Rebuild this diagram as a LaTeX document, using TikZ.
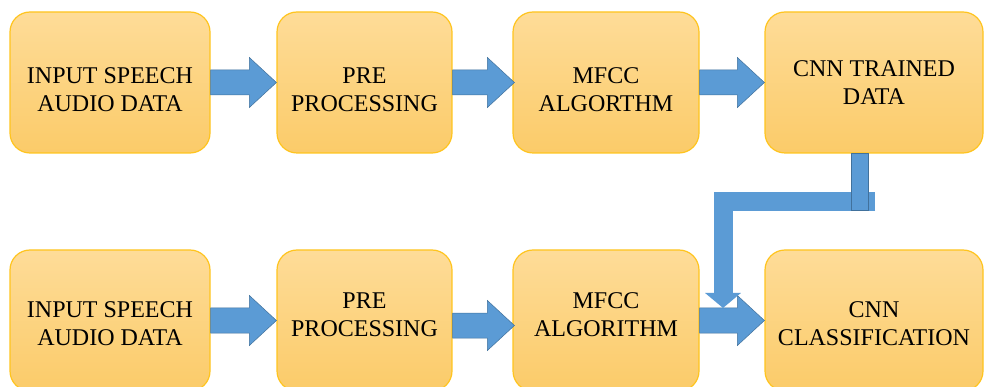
\documentclass[tikz,border=0pt]{standalone}
\usepackage{fontspec}
\setmainfont{Liberation Serif}
\usetikzlibrary{arrows.meta, calc}
\definecolor{boxTop}{RGB}{254,220,152}
\definecolor{boxBottom}{RGB}{251,203,105}
\definecolor{boxEdge}{RGB}{255,196,30}
\definecolor{flowBlue}{RGB}{91,155,213}
\definecolor{flowEdge}{RGB}{65,113,156}
\begin{document}
\begin{tikzpicture}[x=1pt, y=-1pt,
	stage/.style={rectangle, rounded corners=20pt, draw=boxEdge, line width=1.2pt, top color=boxTop, bottom color=boxBottom, align=center, inner sep=0pt, minimum height=141pt, font=\fontsize{24}{28}\selectfont},
	flow/.style={fill=flowBlue, draw=flowEdge, line width=0.5pt, to path={let \p1=(\tikztostart), \p2=(\tikztotarget) in
		(\x1,\y1+12.5pt) -- (\x2-27pt,\y1+12.5pt) -- (\x2-27pt,\y1+25pt) -- (\x2,\y1) -- (\x2-27pt,\y1-25pt) -- (\x2-27pt,\y1-12.5pt) -- (\x1,\y1-12.5pt) -- cycle}},
	drop/.style={draw=flowBlue, line width=19pt, line join=miter, -{Triangle[length=15pt, width=35pt]}}]
	\useasboundingbox (0,0) rectangle (985,387);
	% training row
	\node[stage, minimum width=200pt] (in1) at (110,82.5) {\rule{0pt}{30pt}INPUT SPEECH\\AUDIO DATA};
	\node[stage, minimum width=175pt] (pre1) at (364.5,82.5) {\rule{0pt}{30pt}PRE\\PROCESSING};
	\node[stage, minimum width=186pt] (mfcc1) at (606,82.5) {\rule{0pt}{30pt}MFCC\\ALGORTHM};
	\node[stage, minimum width=218pt] (cnn1) at (874,82.5) {CNN TRAINED\\DATA};
	% testing row
	\node[stage, minimum width=200pt] (in2) at (110,320.5) {\rule{0pt}{22pt}INPUT SPEECH\\AUDIO DATA};
	\node[stage, minimum width=175pt] (pre2) at (364.5,320.5) {PRE\\PROCESSING\rule[-11pt]{0pt}{0pt}};
	\node[stage, minimum width=186pt] (mfcc2) at (606,320.5) {MFCC\\ALGORITHM\rule[-11pt]{0pt}{0pt}};
	\node[stage, minimum width=218pt] (cnn2) at (874,320.5) {\rule{0pt}{22pt}CNN\\CLASSIFICATION};
	% block arrows
	\path[flow] (in1.east) to (pre1.west);
	\path[flow] (pre1.east) to ([xshift=2pt]mfcc1.west);
	\path[flow] (mfcc1.east) to (cnn1.west);
	\path[flow] (in2.east) to (pre2.west);
	\path[flow] ([yshift=-5pt]pre2.east) to ([xshift=2pt]mfcc2.west);
	\path[flow] (mfcc2.east) to (cnn2.west);
	% trained model feeding the classifier
	\coordinate (stub) at (875,201.5);
	\coordinate (dropTip) at (723,308);
	\draw[drop] (stub) -| (dropTip);
	\draw[fill=flowBlue, draw=flowEdge, line width=0.5pt] ([xshift=-23pt]cnn1.south) rectangle ([xshift=-6pt, yshift=-57pt]cnn1.south);
\end{tikzpicture}
\end{document}
